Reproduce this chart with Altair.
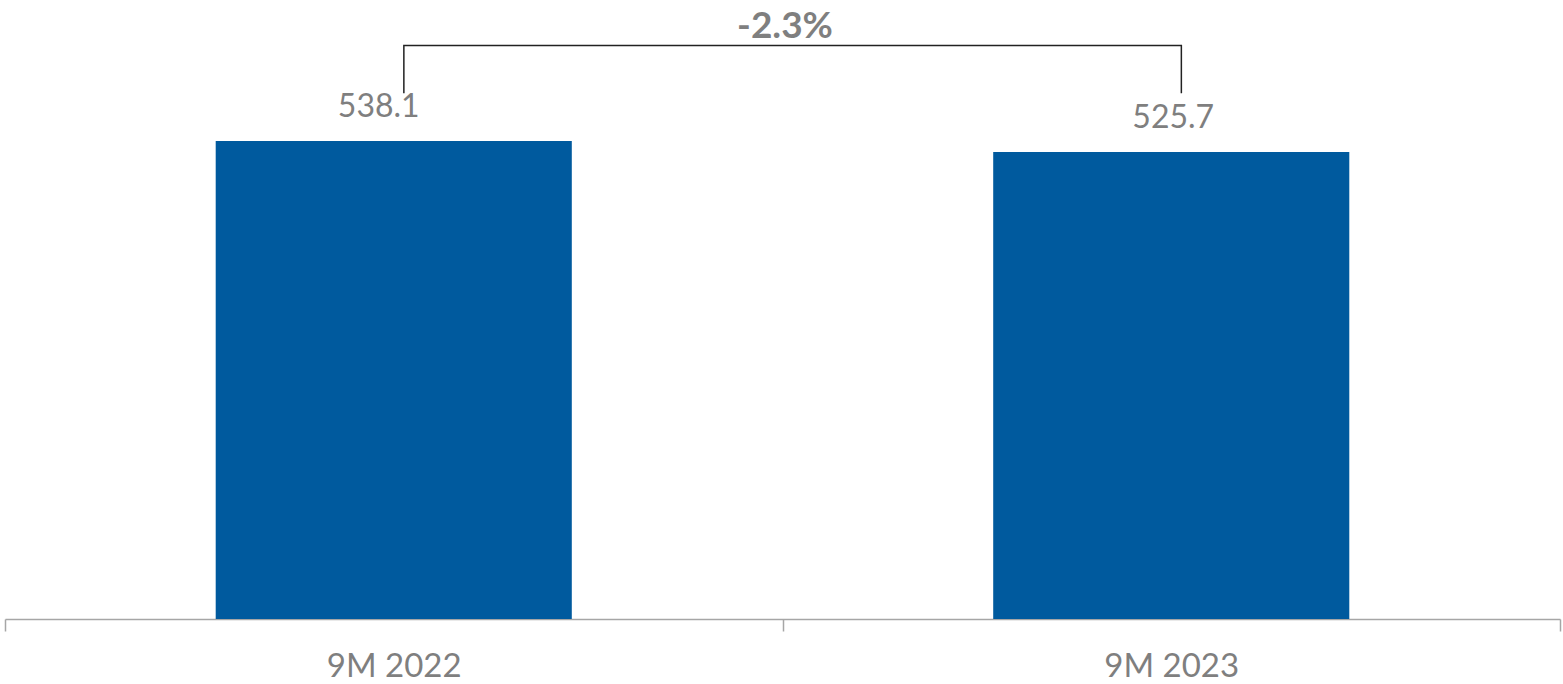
import altair as alt
import pandas as pd

categories = ["9M 2022", "9M 2023"]
values = [538.1, 525.7]

W, H = 1555, 619
BAR_COLOR = "#005a9e"
GREY = "#7f7f7f"

bars_df = pd.DataFrame({"cat": categories, "value": values})
bars_df["label"] = [f"{v:.1f}" for v in values]

vmax = max(values)
lo = vmax * 1.1
hi = vmax * 1.2
bracket_df = pd.DataFrame({
    "cat": [categories[0], categories[0], categories[1], categories[1]],
    "level": [lo, hi, hi, lo],
    "order": [0, 1, 2, 3],
})
pct = (values[1] / values[0] - 1) * 100
pct_df = pd.DataFrame({"label": [f"{pct:.1f}%"], "level": [hi]})

xscale = alt.Scale(domain=categories, paddingInner=0, paddingOuter=0)
yscale = alt.Scale(domain=[0, 696.8], nice=False, zero=True)

x_axis = alt.Axis(
    title=None, labelAngle=0, tickBand="extent",
    domainColor="#a6a6a6", domainWidth=1.5,
    tickColor="#a6a6a6", tickWidth=1.5, tickSize=12,
    labelFont="Lato", labelFontSize=33, labelColor=GREY, labelPadding=19,
    grid=False,
)

bars = alt.Chart(bars_df).mark_bar(color=BAR_COLOR, width={"band": 0.458}).encode(
    x=alt.X("cat:N", scale=xscale, axis=x_axis, sort=categories),
    y=alt.Y("value:Q", scale=yscale, axis=None),
)

def value_label(cat, dx):
    return alt.Chart(bars_df).transform_filter(
        alt.datum.cat == cat
    ).mark_text(
        font="Lato", fontSize=32, color=GREY, baseline="alphabetic", dy=-24, dx=dx
    ).encode(
        x=alt.X("cat:N", scale=xscale, sort=categories),
        y=alt.Y("value:Q", scale=yscale),
        text="label:N",
    )

label_first = value_label(categories[0], -15)
label_second = value_label(categories[1], 2)

bracket = alt.Chart(bracket_df).mark_line(color="#222222", strokeWidth=1.5).encode(
    x=alt.X("cat:N", scale=xscale, sort=categories, bandPosition=0.513),
    y=alt.Y("level:Q", scale=yscale),
    order="order:Q",
)

pct_text = alt.Chart(pct_df).mark_text(
    font="Lato", fontSize=37, fontWeight="bold", color=GREY,
    baseline="alphabetic", dy=-7
).encode(
    x=alt.value(780),
    y=alt.Y("level:Q", scale=yscale),
    text="label:N",
)

chart = alt.layer(bars, label_first, label_second, bracket, pct_text).properties(
    width=W, height=H,
    autosize=alt.AutoSizeParams(type="none"),
    padding={"left": 5, "top": 0, "right": 3, "bottom": 65},
    background="white",
).configure_view(stroke=None)

chart.save("out.html", embed_options={"renderer": "svg", "actions": False})
